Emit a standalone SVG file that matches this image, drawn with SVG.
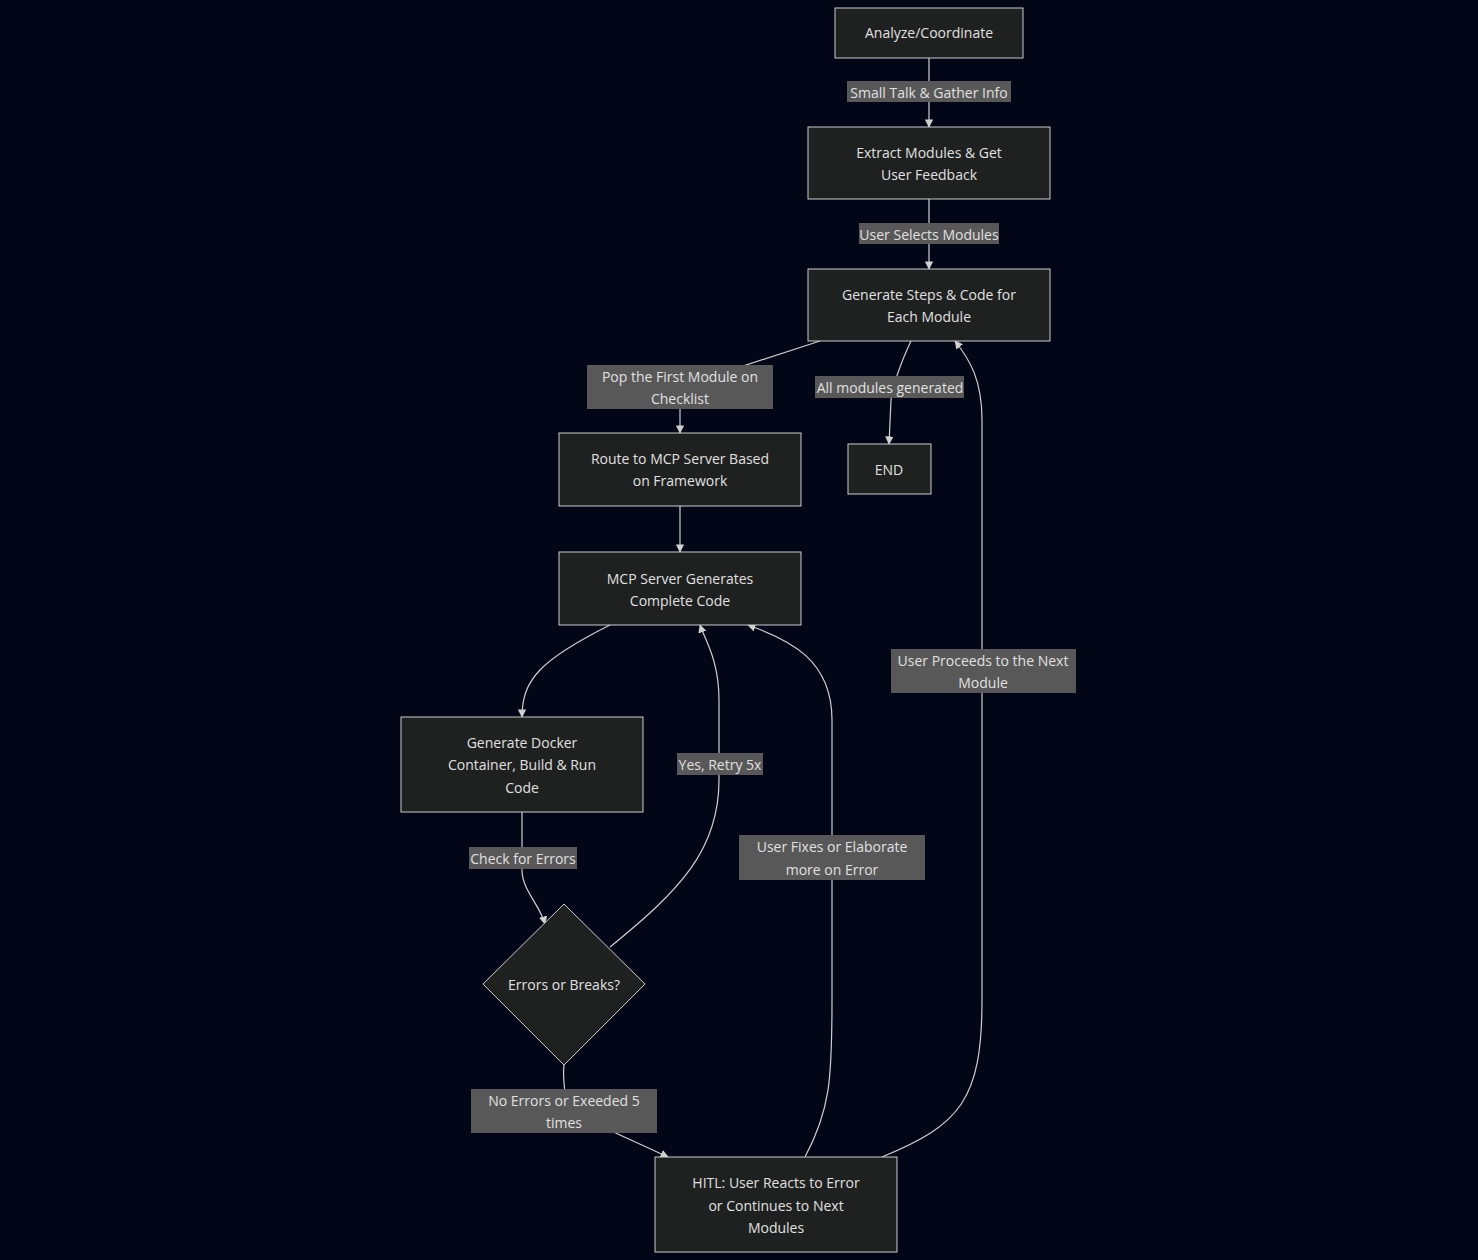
<svg xmlns="http://www.w3.org/2000/svg" width="1478" height="1260" viewBox="0 0 1478 1260">
<style>
.n{fill:#1f2020;stroke:#cccccc;stroke-width:1}
.t{font-family:"Open Sans","Liberation Sans",sans-serif;font-size:14px;fill:#e0e0e0;text-anchor:middle;dominant-baseline:central}
.lb{fill:#585858}
.e{fill:none;stroke:#d0d0d0;stroke-width:1.2}
</style>
<defs><marker id="ah" viewBox="0 0 10 10" refX="9" refY="5" markerWidth="7" markerHeight="7" orient="auto"><path d="M0,0L10,5L0,10z" fill="#d0d0d0"/></marker></defs>
<rect width="1478" height="1260" fill="#030617"/>
<g id="edges">
<path class="e" marker-end="url(#ah)" d="M929,58L929,127"/>
<path class="e" marker-end="url(#ah)" d="M929,199L929,269"/>
<path class="e" marker-end="url(#ah)" d="M820,341L700,380Q680,390 680,410L680,433"/>
<path class="e" marker-end="url(#ah)" d="M911,341Q895,375 891,400L889,444"/>
<path class="e" marker-end="url(#ah)" d="M680,506L680,552"/>
<path class="e" marker-end="url(#ah)" d="M610,625C540,660 522,680 522,717"/>
<path class="e" marker-end="url(#ah)" d="M522,812L522,870C522,890 540,905 545,924"/>
<path class="e" marker-end="url(#ah)" d="M610,947C680,890 719,850 719,780L719,700C719,660 705,640 700,625"/>
<path class="e" marker-end="url(#ah)" d="M564,1065C562,1080 566,1090 566,1110L620,1135L668,1157"/>
<path class="e" marker-end="url(#ah)" d="M805,1157C830,1110 832,1080 832,1000L832,720C832,660 790,640 748,625"/>
<path class="e" marker-end="url(#ah)" d="M882,1157C960,1125 982,1100 982,1000L982,420C982,380 970,360 955,341"/>
</g>
<g id="labels">
<rect class="lb" x="847" y="81" width="164" height="21"/><text class="t" x="929" y="92">Small Talk &amp; Gather Info</text>
<rect class="lb" x="859" y="223" width="140" height="21"/><text class="t" x="929" y="234">User Selects Modules</text>
<rect class="lb" x="587" y="365" width="186" height="44"/><text class="t" x="680" y="376">Pop the First Module on</text><text class="t" x="680" y="398">Checklist</text>
<rect class="lb" x="815" y="376" width="149" height="22"/><text class="t" x="890" y="387">All modules generated</text>
<rect class="lb" x="891" y="649" width="185" height="44"/><text class="t" x="983" y="660">User Proceeds to the Next</text><text class="t" x="983" y="682">Module</text>
<rect class="lb" x="677" y="753" width="86" height="22"/><text class="t" x="720" y="764">Yes, Retry 5x</text>
<rect class="lb" x="739" y="835" width="186" height="45"/><text class="t" x="832" y="846">User Fixes or Elaborate</text><text class="t" x="832" y="869">more on Error</text>
<rect class="lb" x="469" y="847" width="108" height="22"/><text class="t" x="523" y="858">Check for Errors</text>
<rect class="lb" x="471" y="1089" width="186" height="44"/><text class="t" x="564" y="1100">No Errors or Exeeded 5</text><text class="t" x="564" y="1122">times</text>
</g>
<g id="A"><rect class="n" x="835" y="8" width="188" height="50"/><text class="t" x="929" y="32">Analyze/Coordinate</text></g>
<g id="B"><rect class="n" x="808" y="127" width="242" height="72"/><text class="t" x="929" y="152">Extract Modules &amp; Get</text><text class="t" x="929" y="174">User Feedback</text></g>
<g id="C"><rect class="n" x="808" y="269" width="242" height="72"/><text class="t" x="929" y="294">Generate Steps &amp; Code for</text><text class="t" x="929" y="316">Each Module</text></g>
<g id="D"><rect class="n" x="559" y="433" width="242" height="73"/><text class="t" x="680" y="458">Route to MCP Server Based</text><text class="t" x="680" y="480">on Framework</text></g>
<g id="END"><rect class="n" x="848" y="444" width="83" height="50"/><text class="t" x="889" y="469">END</text></g>
<g id="E"><rect class="n" x="559" y="552" width="242" height="73"/><text class="t" x="680" y="578">MCP Server Generates</text><text class="t" x="680" y="600">Complete Code</text></g>
<g id="F"><rect class="n" x="401" y="717" width="242" height="95"/><text class="t" x="522" y="742">Generate Docker</text><text class="t" x="522" y="764">Container, Build &amp; Run</text><text class="t" x="522" y="787">Code</text></g>
<g id="G"><polygon class="n" points="564,904 645,984 564,1065 483,984"/><text class="t" x="564" y="984">Errors or Breaks?</text></g>
<g id="H"><rect class="n" x="655" y="1157" width="242" height="95"/><text class="t" x="776" y="1182">HITL: User Reacts to Error</text><text class="t" x="776" y="1205">or Continues to Next</text><text class="t" x="776" y="1227">Modules</text></g>
</svg>
